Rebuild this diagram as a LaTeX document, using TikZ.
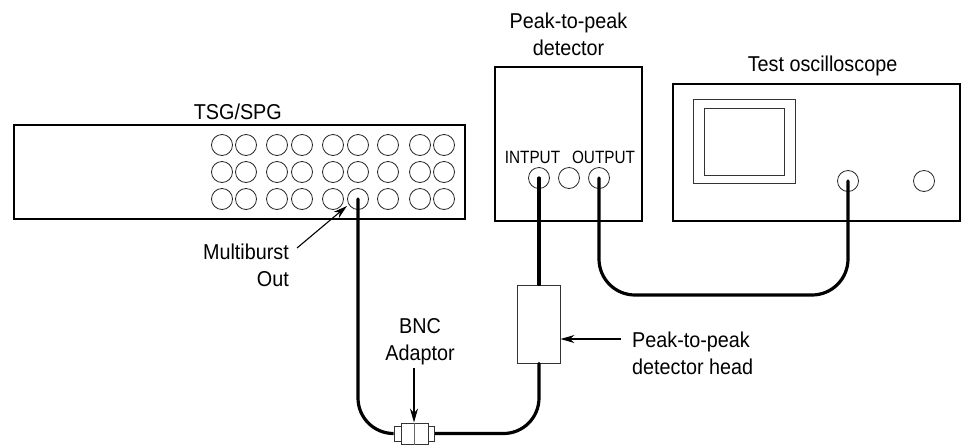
\documentclass[tikz,border=0pt]{standalone}
\usepackage{fontspec}
\setmainfont[FakeStretch=0.92]{Liberation Sans}
\newfontfamily\panelfont[FakeStretch=0.86]{Liberation Sans}
\usetikzlibrary{arrows.meta}
\tikzset{
 box/.style={draw=black,line width=2pt,fill=none,inner sep=0pt},
 jack/.style={circle,draw=black!85,line width=0.8pt,minimum size=21pt,inner sep=0pt},
 thin box/.style={draw=black!80,line width=1pt},
 cable/.style={draw=black,line width=3.2pt,line cap=round},
 lbl/.style={font=\fontsize{21.5}{27}\selectfont,text=black,inner sep=0pt,align=center},
 panel/.style={font=\panelfont\fontsize{17.8}{20}\selectfont,text=black,inner sep=0pt},
 pointer/.style={draw=black,line width=1.1pt,-{Stealth[length=14pt,width=8pt]}}
}
\begin{document}
\begin{tikzpicture}[x=1pt,y=-1pt]
\useasboundingbox (0,0) rectangle (974,445);
% frames
\node[box,minimum width=451pt,minimum height=94pt] (tsg) at (239.5,172) {};
\node[box,minimum width=147pt,minimum height=154pt] (det) at (568.5,144) {};
\node[box,minimum width=287pt,minimum height=137pt] (osc) at (816.5,152.5) {};
\node[thin box,minimum width=102pt,minimum height=84pt,inner sep=0pt] (scr) at (744,141) {};
\node[thin box,minimum width=80pt,minimum height=67pt,inner sep=0pt] (scri) at (744,141.5) {};
% jack grid
\foreach \y/\r in {145/a,172/b,199/c}{
 \foreach \x/\c in {222/1,246/2,277/3,302/4,333/5,358/6,388/7,420/8,444/9}{
  \node[jack] (j\r\c) at (\x,\y) {};
 }
}
\node[jack] (din) at (539,178) {};
\node[jack] (dmid) at (569,178) {};
\node[jack] (dout) at (599,178) {};
\node[jack] (oa) at (848,181) {};
\node[jack] (ob) at (924,181) {};
% head and adaptor
\node[thin box,fill=white,minimum width=43pt,minimum height=78pt,inner sep=0pt] (head) at (538.5,324) {};
\coordinate (al) at (393,433.5);
\coordinate (ar) at (434,433.5);
% cables
\draw[cable] (dout.center) -- (599,259) arc[start angle=180,end angle=90,radius=36] -- (812,295) arc[start angle=90,end angle=0,radius=36] -- (oa.center);
\draw[cable] (din.center) -- (head.north -| din.center);
\draw[cable] (head.south -| din.center) -- (539,398) arc[start angle=0,end angle=90,radius=35.5] -- (ar);
\draw[cable] (jc6.center) -- (358,398) arc[start angle=180,end angle=90,radius=35.5] -- (al);
% adaptor
\node[thin box,fill=white,minimum width=40pt,minimum height=15pt,inner sep=0pt] (adl) at (414,434) {};
\node[thin box,fill=white,minimum width=27pt,minimum height=21pt,inner sep=0pt] (adm) at (414.5,433.5) {};
\draw[draw=black!60,line width=1.2pt] (adm.north) -- (adm.south);
% labels
\node[lbl,anchor=base east] (tTSG) at (282,119) {TSG/SPG};
\node[lbl] (tPP) at (568.5,34) {Peak-to-peak\\detector};
\node[lbl,anchor=base] (tOsc) at (822.5,71) {Test oscilloscope};
\node[panel] (tIn) at (532.5,157) {INTPUT};
\node[panel] (tOut) at (603.5,157) {OUTPUT};
\node[lbl,align=right,anchor=east] (tMB) at (289,265) {Multiburst\\Out};
\node[lbl] (tBNC) at (420,342) {BNC\\Adaptor};
\node[lbl,anchor=west,align=left] (tHead) at (632,353.5) {Peak-to-peak\\detector head};
% pointers
\coordinate (mbs) at (297,248);
\coordinate (mbt) at (347,206);
\coordinate (bncs) at (414,368);
\coordinate (hds) at (621,339);
\draw[pointer] (mbs) -- (mbt);
\draw[pointer] (bncs) -- (adm.north -| bncs);
\draw[pointer] (hds) -- (head.east |- hds);
\end{tikzpicture}
\end{document}
